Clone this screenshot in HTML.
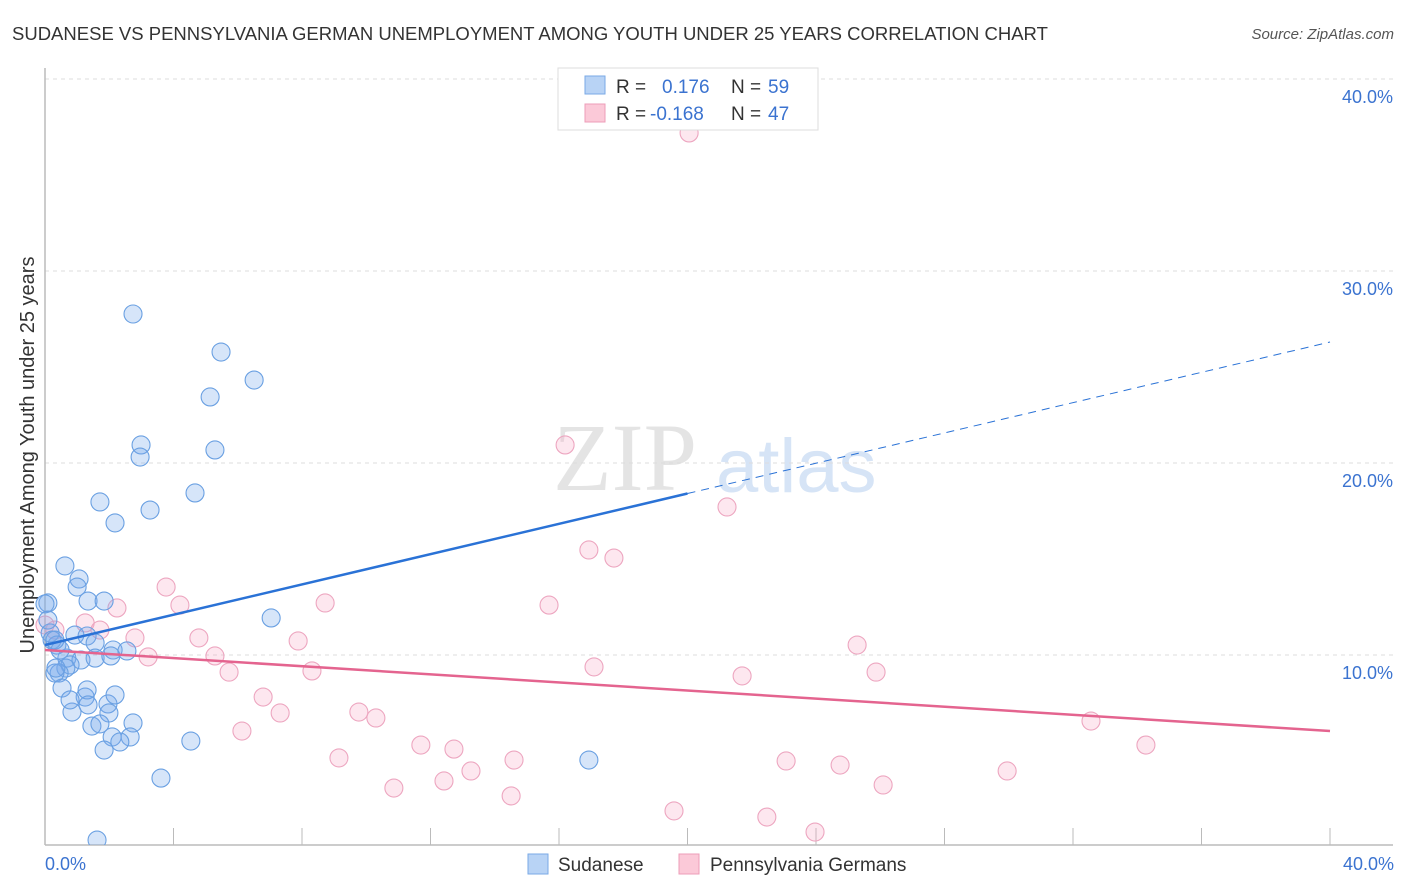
<!DOCTYPE html>
<html><head><meta charset="utf-8"><style>
body{margin:0;background:#fff;font-family:"Liberation Sans",sans-serif;}
svg{display:block}
</style></head><body>
<svg id="chart" width="1406" height="892">
<text x="12" y="40" font-size="18.5" fill="#333">SUDANESE VS PENNSYLVANIA GERMAN UNEMPLOYMENT AMONG YOUTH UNDER 25 YEARS CORRELATION CHART</text>
<text x="1394" y="39" font-size="15" fill="#555" font-style="italic" text-anchor="end">Source: ZipAtlas.com</text>
<g>
<text x="553" y="490" font-size="96" fill="#e4e4e4" font-family="Liberation Serif,serif">ZIP</text>
<text x="716" y="492" font-size="76" fill="#d6e4f6">atlas</text>
</g>
<text transform="translate(34,455) rotate(-90)" font-size="20" fill="#333" text-anchor="middle">Unemployment Among Youth under 25 years</text>
<g id="grid"></g>
<line x1="45" y1="68" x2="45" y2="845" stroke="#bbb" stroke-width="1.5"/>
<line x1="45" y1="845" x2="1393" y2="845" stroke="#bbb" stroke-width="1.5"/>
<g id="xticks"></g>
<defs><clipPath id="clip"><rect x="30" y="60" width="1370" height="785"/></clipPath></defs>
<g id="pts" clip-path="url(#clip)"></g>
<g id="lines"></g>
<text x="45" y="870" font-size="18" fill="#3b73d0">0.0%</text>
<text x="1394" y="870" font-size="18" fill="#3b73d0" text-anchor="end">40.0%</text>
<g>
<rect x="558" y="68" width="260" height="62" fill="#fff" stroke="#ddd"/>
<rect x="585" y="76" width="20" height="18" fill="#b8d3f5" stroke="#7aaae6"/>
<rect x="585" y="104" width="20" height="18" fill="#fbc9d8" stroke="#ee9db8"/>
<text x="616" y="93" font-size="19" fill="#333">R =</text>
<text x="662" y="93" font-size="19" fill="#3b73d0">0.176</text>
<text x="731" y="93" font-size="19" fill="#333">N =</text>
<text x="768" y="93" font-size="19" fill="#3b73d0">59</text>
<text x="616" y="120" font-size="19" fill="#333">R =</text>
<text x="650" y="120" font-size="19" fill="#3b73d0">-0.168</text>
<text x="731" y="120" font-size="19" fill="#333">N =</text>
<text x="768" y="120" font-size="19" fill="#3b73d0">47</text>
</g>
<g>
<rect x="528" y="854" width="20" height="20" fill="#b8d3f5" stroke="#7aaae6"/>
<text x="558" y="871" font-size="19" fill="#333">Sudanese</text>
</g>
<g>
<rect x="679" y="854" width="20" height="20" fill="#fbc9d8" stroke="#ee9db8"/>
<text x="710" y="871" font-size="19" fill="#333">Pennsylvania Germans</text>
</g>
</svg>
<script>
const yTicks=[10,20,30,40];
const yTickLabels=["10.0%","20.0%","30.0%","40.0%"];
const blueX=[2.74,5.48,6.51,5.14,2.99,2.96,5.29,4.67,1.71,3.27,2.18,0.62,1.06,1.00,1.34,1.84,7.04,0.09,0.16,0.22,0.37,0.93,1.31,1.56,2.12,2.55,0.68,1.12,1.56,2.05,0.78,0.65,0.44,0.31,0.53,0.84,1.25,1.31,1.34,1.96,1.99,1.46,1.71,2.74,2.65,2.09,2.33,1.84,4.54,3.61,16.93,1.62,0.34,0.47,0.0,0.09,0.78,2.18,0.31];
const blueY=[27.76,25.78,24.32,23.44,20.94,20.31,20.68,18.44,17.97,17.55,16.88,14.64,13.96,13.54,12.81,12.81,11.93,12.71,11.15,10.78,10.52,11.04,10.99,10.63,10.26,10.21,9.84,9.74,9.84,9.95,9.48,9.32,9.06,9.06,8.28,7.03,7.81,8.18,7.40,7.45,6.98,6.30,6.41,6.46,5.73,5.73,5.47,5.05,5.52,3.59,4.53,0.36,9.32,10.26,12.66,11.82,7.66,7.92,10.78];
const pinkX=[20.05,16.19,21.23,16.93,17.71,3.77,4.20,2.24,8.72,15.69,1.25,1.71,0.0,0.31,2.80,4.79,7.88,25.28,5.29,3.21,5.73,8.31,17.09,21.70,25.87,6.79,7.32,9.77,10.30,6.13,32.56,34.27,11.70,12.73,9.15,14.60,23.07,24.75,13.26,29.95,12.42,10.86,14.51,26.09,19.58,22.47,23.97];
const pinkY=[37.19,20.94,17.71,15.47,15.05,13.54,12.60,12.45,12.71,12.60,11.67,11.30,11.56,11.30,10.89,10.89,10.73,10.52,9.95,9.90,9.11,9.17,9.38,8.91,9.11,7.81,6.98,7.03,6.72,6.04,6.56,5.31,5.31,5.10,4.64,4.53,4.48,4.27,3.96,3.96,3.44,3.07,2.66,3.23,1.88,1.56,0.78];
const blueTrend=[10.52,26.3];
const pinkTrend=[10.26,6.04];
const NS="http://www.w3.org/2000/svg";
const sx=v=>45+v*32.125, sy=v=>847-v*19.2;
function mk(t,a,p){const e=document.createElementNS(NS,t);for(const k in a)e.setAttribute(k,a[k]);p.appendChild(e);return e;}
const grid=document.getElementById('grid');
yTicks.forEach((t,i)=>{
 const l=mk('line',{x1:45,x2:1393,y1:sy(t),y2:sy(t),stroke:'#ddd','stroke-dasharray':'4,4'},grid);
 
 
 const tx=mk('text',{x:1393,y:sy(t)+24,'font-size':18,fill:'#3b73d0','text-anchor':'end'},grid);
 tx.textContent=yTickLabels[i];
 
 
});
const xt=document.getElementById('xticks');
for(let i=1;i<=10;i++){
 const l=mk('line',{x1:sx(i*4),x2:sx(i*4),y1:828,y2:845,stroke:'#bbb'},xt);
 
 
}
const pts=document.getElementById('pts');
function draw(X,Y,fill,stroke,name){
 X.forEach((x,i)=>{
  const c=mk('circle',{cx:sx(x),cy:sy(Y[i]),r:9,fill:fill,stroke:stroke,'stroke-width':1.1},pts);
  
  
 });
}
draw(pinkX,pinkY,'rgba(248,170,198,0.28)','#eda6c0','pennsylvania-german-point');
draw(blueX,blueY,'rgba(120,170,235,0.3)','#6aa0e2','sudanese-point');
const lines=document.getElementById('lines');
const bx=20.0, by=blueTrend[0]+(blueTrend[1]-blueTrend[0])*bx/40;
let l1=mk('line',{x1:sx(0),y1:sy(blueTrend[0]),x2:sx(bx),y2:sy(by),stroke:'#2a72d6','stroke-width':2.5},lines);


let l2=mk('line',{x1:sx(bx),y1:sy(by),x2:sx(40),y2:sy(blueTrend[1]),stroke:'#2a72d6','stroke-width':1,'stroke-dasharray':'8,6'},lines);


let l3=mk('line',{x1:sx(0),y1:sy(pinkTrend[0]),x2:sx(40),y2:sy(pinkTrend[1]),stroke:'#e4648f','stroke-width':2.5},lines);


</script>
</body></html>
